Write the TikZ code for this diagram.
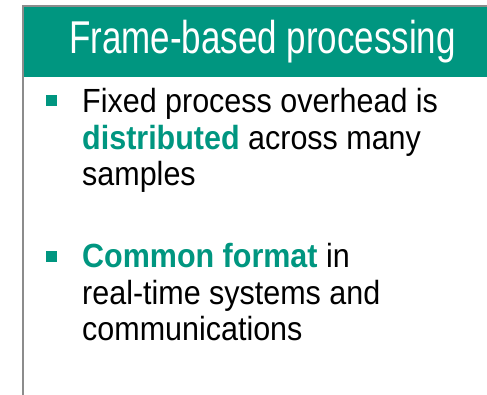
\documentclass[tikz,border=0pt]{standalone}
\usepackage{fontspec}
\newfontfamily\titlefont[FakeStretch=0.76]{Liberation Sans}
\newfontfamily\bodyfont[FakeStretch=0.91]{Liberation Sans}
\definecolor{teal}{RGB}{0,150,128}
\definecolor{rule}{RGB}{140,140,140}
\tikzset{
  title/.style={anchor=base west, inner sep=0pt, text=white, font=\titlefont\fontsize{46}{46}\selectfont},
  body/.style={anchor=base west, inner sep=0pt, text=black, font=\bodyfont\fontsize{33.5}{36}\selectfont},
  bulletsq/.style={fill=teal, draw=none},
  frameline/.style={draw=rule, line width=1.6pt},
}
\newcommand{\hl}[1]{\textcolor{teal}{\bfseries #1}}
\begin{document}
\begin{tikzpicture}[x=1pt, y=-1pt]
  \useasboundingbox (0,0) rectangle (487,395);
  % header bar
  \fill[teal] (23.5,6.5) rectangle (487,77);
  \draw[frameline] (487,6) -- (23,6) -- (23,395);
  \node[title] (hdr) at (69,54) {Frame-based processing};
  % first bullet
  \fill[bulletsq] (46,95) rectangle (57,106);
  \node[body] (a1) at (82,113) {Fixed process overhead is};
  \node[body] (a2) at (82,150) {\hl{distributed} across many};
  \node[body] (a3) at (82,186) {samples};
  % second bullet
  \fill[bulletsq] (46,251.5) rectangle (57,262.5);
  \node[body] (b1) at (82,268) {\hl{Common format} in};
  \node[body] (b2) at (82,304) {real-time systems and};
  \node[body] (b3) at (82,340) {communications};
\end{tikzpicture}
\end{document}
